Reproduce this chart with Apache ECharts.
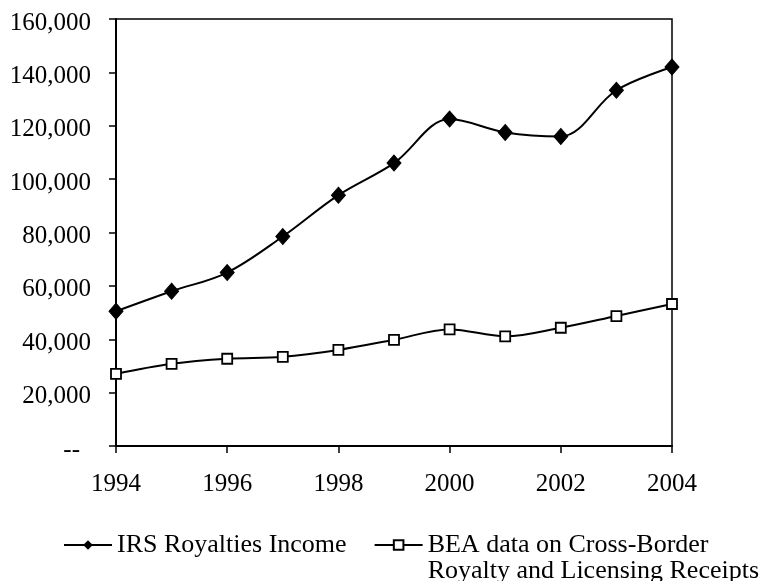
<!DOCTYPE html>
<html>
<head>
<meta charset="utf-8">
<script src="https://cdn.jsdelivr.net/npm/echarts@6/dist/echarts.min.js"></script>
<style>
  html, body { margin: 0; padding: 0; background: #fff; }
  #chart { width: 762px; height: 581px; }
</style>
</head>
<body>
<div id="chart"></div>
<script>
const years = ['1994','1995','1996','1997','1998','1999','2000','2001','2002','2003','2004'];
const irsRoyalties = [50500, 58000, 65000, 78500, 94000, 106000, 122500, 117500, 116000, 133300, 142000];
const beaReceipts = [27000, 30800, 32700, 33400, 36000, 39800, 43700, 41100, 44300, 48700, 53200];
const irsName = 'IRS Royalties Income';
const beaName = 'BEA data on Cross-Border\nRoyalty and Licensing Receipts';

const FONT = "'Liberation Serif', 'Times New Roman', serif";

function fmt(v) {
  if (v === 0) return '{z|--}';
  return String(v).replace(/\B(?=(\d{3})+(?!\d))/g, ',');
}

const chart = echarts.init(document.getElementById('chart'));
chart.setOption({
  animation: false,
  backgroundColor: '#fff',
  grid: {
    left: 116, right: 90, top: 19, bottom: 135,
    show: true, borderColor: '#000', borderWidth: 1.5, backgroundColor: 'transparent'
  },
  xAxis: {
    type: 'category',
    data: years,
    boundaryGap: false,
    axisLine: { lineStyle: { color: '#000', width: 2 } },
    axisTick: { show: true, interval: 1, length: 7, lineStyle: { color: '#000', width: 1.5 } },
    axisLabel: { interval: 1, margin: 26, color: '#000', fontFamily: FONT, fontSize: 25 },
    splitLine: { show: false }
  },
  yAxis: {
    type: 'value',
    min: 0, max: 160000, interval: 20000,
    axisLine: { show: true, lineStyle: { color: '#000', width: 2 } },
    axisTick: { show: true, length: 7, lineStyle: { color: '#000', width: 1.5 } },
    axisLabel: {
      margin: 25, color: '#000', fontFamily: FONT, fontSize: 25,
      padding: [8, 0, 0, 0],
      formatter: fmt,
      rich: { z: { fontFamily: FONT, fontSize: 25, color: '#000', padding: [0, 11, 0, 0] } }
    },
    splitLine: { show: false }
  },
  legend: {
    top: 506, left: 63,
    padding: 0,
    itemWidth: 48, itemHeight: 12, itemGap: 27,
    textStyle: { color: '#000', fontFamily: FONT, fontSize: 26, lineHeight: 26 },
    formatter: function (name) { return name === beaName ? '\n' + name : name; },
    data: [irsName, beaName]
  },
  series: [
    {
      name: irsName,
      type: 'line',
      data: irsRoyalties,
      smooth: 0.35,
      symbol: 'diamond',
      symbolSize: [14, 16],
      lineStyle: { color: '#000', width: 2 },
      itemStyle: { color: '#000', borderColor: '#000' }
    },
    {
      name: beaName,
      type: 'line',
      data: beaReceipts,
      smooth: 0.35,
      symbol: 'rect',
      symbolSize: 10,
      lineStyle: { color: '#000', width: 2 },
      itemStyle: { color: '#fff', borderColor: '#000', borderWidth: 1.8 }
    }
  ]
});
</script>
</body>
</html>
